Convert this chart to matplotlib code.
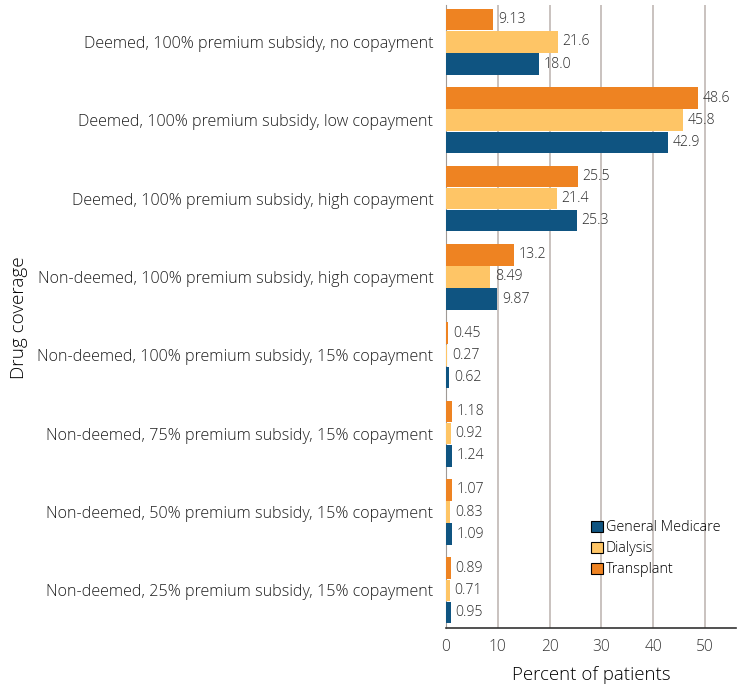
import matplotlib
matplotlib.use("Agg")
import matplotlib.pyplot as plt
import numpy as np
from matplotlib.patches import Patch

plt.rcParams['font.family'] = ['Open Sans', 'DejaVu Sans']

categories = [
    "Deemed, 100% premium subsidy, no copayment",
    "Deemed, 100% premium subsidy, low copayment",
    "Deemed, 100% premium subsidy, high copayment",
    "Non-deemed, 100% premium subsidy, high copayment",
    "Non-deemed, 100% premium subsidy, 15% copayment",
    "Non-deemed, 75% premium subsidy, 15% copayment",
    "Non-deemed, 50% premium subsidy, 15% copayment",
    "Non-deemed, 25% premium subsidy, 15% copayment",
]
general_medicare = [18.0, 42.9, 25.3, 9.87, 0.62, 1.24, 1.09, 0.95]
dialysis = [21.6, 45.8, 21.4, 8.49, 0.27, 0.92, 0.83, 0.71]
transplant = [9.13, 48.6, 25.5, 13.2, 0.45, 1.18, 1.07, 0.89]
general_labels = ["18.0", "42.9", "25.3", "9.87", "0.62", "1.24", "1.09", "0.95"]
dialysis_labels = ["21.6", "45.8", "21.4", "8.49", "0.27", "0.92", "0.83", "0.71"]
transplant_labels = ["9.13", "48.6", "25.5", "13.2", "0.45", "1.18", "1.07", "0.89"]
series_names = ["General Medicare", "Dialysis", "Transplant"]
xticks = [0, 10, 20, 30, 40, 50]

colors = {"General Medicare": "#0f5481", "Dialysis": "#fec566", "Transplant": "#ee8322"}

fig = plt.figure(figsize=(7.46, 6.85), dpi=100)
ax = fig.add_axes([446 / 746, 57 / 685, 290 / 746, 623 / 685])

y = np.arange(len(categories))
h = 0.283
series = [
    ("Transplant", transplant, transplant_labels, -h),
    ("Dialysis", dialysis, dialysis_labels, 0.0),
    ("General Medicare", general_medicare, general_labels, h),
]
for name, vals, labs, off in series:
    ax.barh(y + off, vals, height=h * 0.97, color=colors[name], linewidth=0,
            zorder=3)
    for yi, v, lab in zip(y, vals, labs):
        ax.text(v + 0.9, yi + off, lab, va="center", ha="left",
                fontsize=10.2, color="#2a2a2a", fontweight="light", zorder=4)

ax.set_ylim(len(categories) - 0.52, -0.47)
ax.set_xlim(0, 56)
ax.set_yticks(y)
ax.set_yticklabels(categories, fontsize=11.6, color="#1e1e1e", fontweight="light")
ax.set_xticks(xticks)
ax.set_xticklabels([str(t) for t in xticks], fontsize=11.2, color="#333333",
                   fontweight="light")
ax.tick_params(axis="y", length=0, pad=9)
ax.tick_params(axis="x", length=0, pad=8)
ax.xaxis.grid(True, color="#c0b8b4", linewidth=1.2, zorder=0)
ax.set_axisbelow(True)
for s in ["top", "right"]:
    ax.spines[s].set_visible(False)
ax.spines["left"].set_color("#a09a96")
ax.spines["bottom"].set_color("#333333")
ax.spines["bottom"].set_linewidth(1.2)

ax.set_xlabel("Percent of patients", fontsize=13.4, labelpad=8, fontweight="light")
fig.text(0.026, 1 - 318 / 685, "Drug coverage", rotation=90, fontsize=13.6,
         va="center", ha="center", fontweight="light")

handles = [Patch(facecolor=colors[n], edgecolor="black", linewidth=0.8, label=n)
           for n in series_names]
leg = ax.legend(handles=handles, loc="lower right", bbox_to_anchor=(0.965, 0.072),
                frameon=False, fontsize=10.4, handlelength=0.8, handleheight=0.8,
                handletextpad=0.2, labelspacing=0.42, borderaxespad=0)
for t in leg.get_texts():
    t.set_fontweight("light")

fig.savefig("out.png", dpi=100)
